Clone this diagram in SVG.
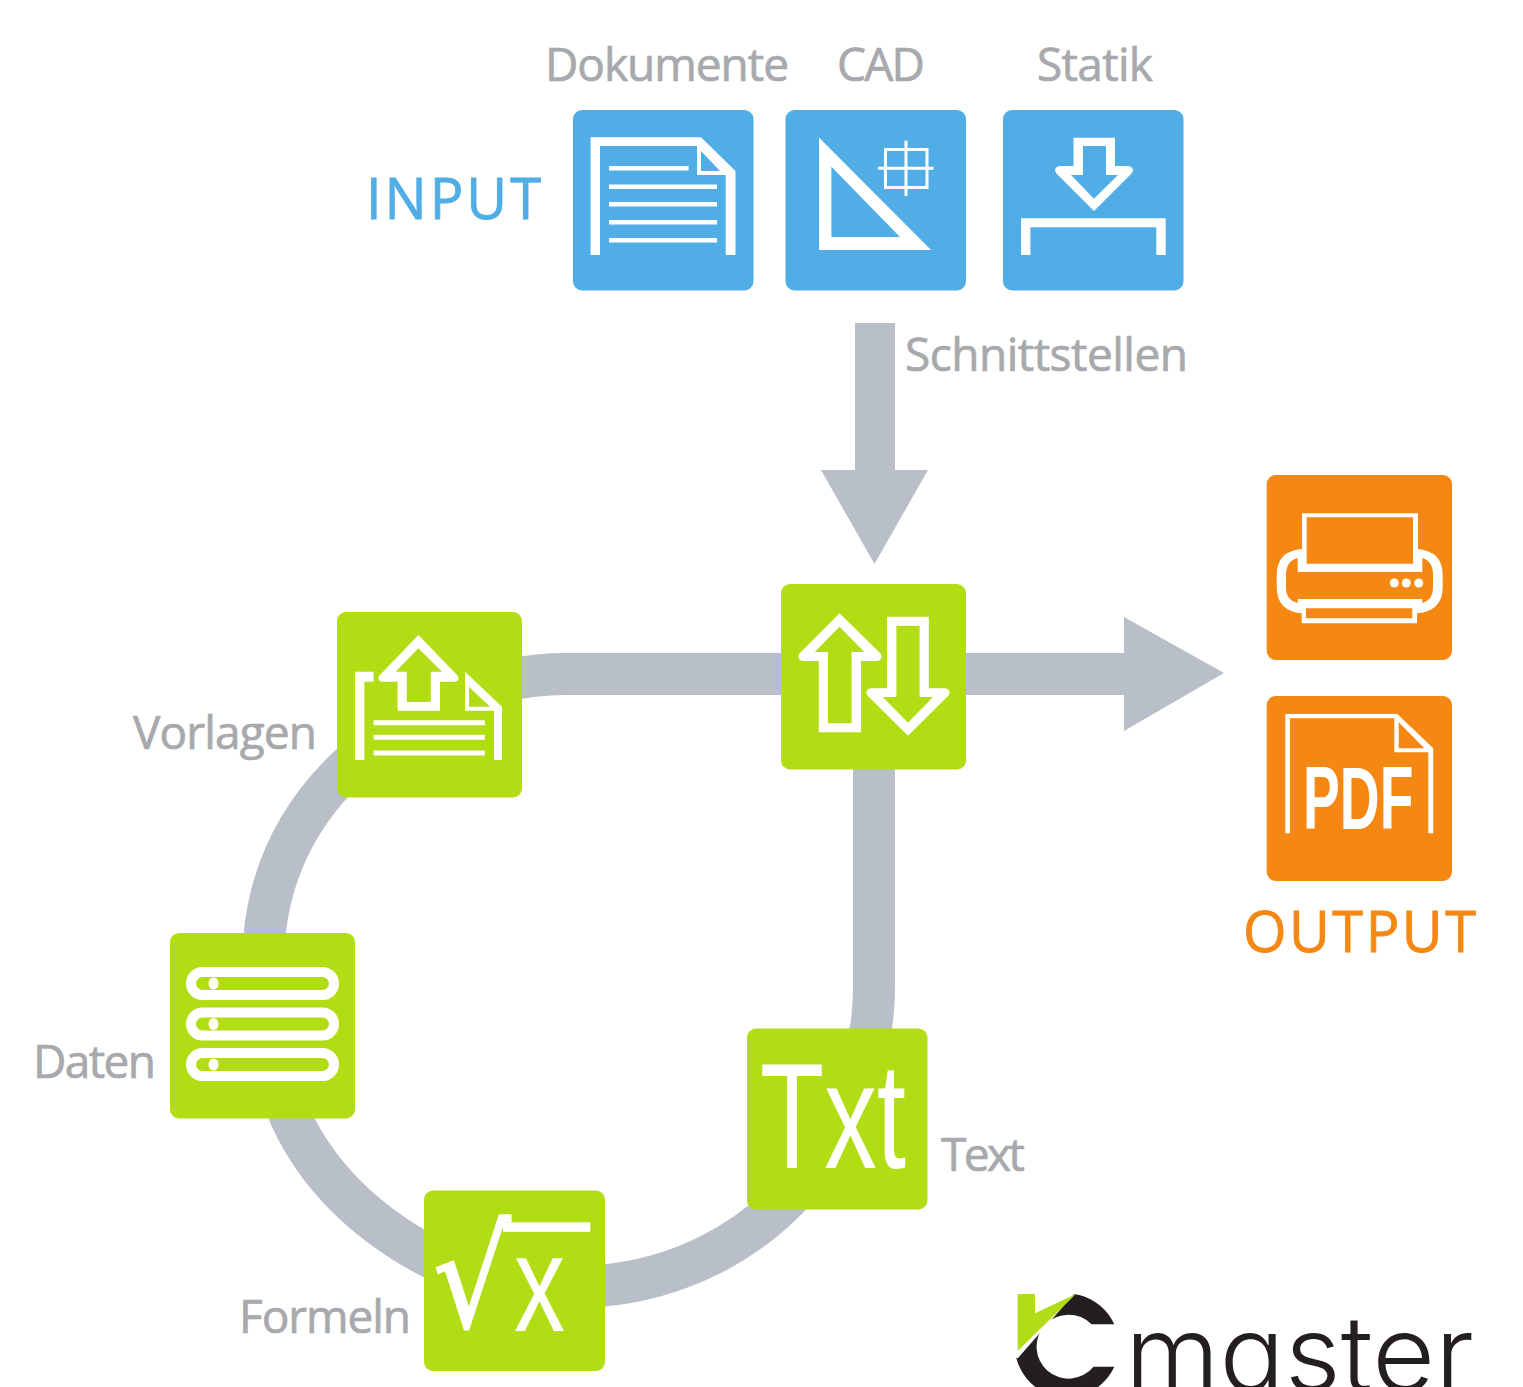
<svg xmlns="http://www.w3.org/2000/svg" width="1523" height="1387" viewBox="0 0 1523 1387">
<style>
.blue{fill:#50ade6}.green{fill:#b2dd15}.orange{fill:#f58713}
.w{fill:#fff}.wo{fill:#fff;fill-rule:evenodd}
.lab{font-family:"Open Sans","Liberation Sans",sans-serif;font-size:46px;fill:#a7a9ac;stroke:#a7a9ac;stroke-width:.7px}
.big{font-family:"Open Sans","Liberation Sans",sans-serif;font-size:56px;stroke-width:.8px}
.ico{font-family:"Liberation Sans",Arial,sans-serif;fill:#fff}
.conn{fill:#b8bfc8}
</style>
<rect width="1523" height="1387" fill="#fff"/>
<g id="connectors">
<path d="M781,674 L565,674 C480,674 400,715 342,773 C300,815 270,870 264,940 C264,1010 275,1080 291,1118 C320,1180 370,1225 430,1257 L600,1286 C760,1272 874,1140 874,985 L874,769" fill="none" stroke="#b8bfc8" stroke-width="42"/>
<path class="conn" d="M855,323H895V470H928L874.500,564L821,470H855Z"/>
<path class="conn" d="M960,653H1124V617L1224,673L1124,731V695H960Z"/>
</g>
<text class="big" x="366" y="219" textLength="175" style="fill:#50ade6;stroke:#50ade6">INPUT</text>
<g id="node-dokumente">
<text class="lab" x="545" y="81" textLength="244">Dokumente</text>
<rect class="blue" x="573" y="110" width="180.500" height="180.500" rx="9"/>
<path class="wo" d="M590.600,255V137.300H701L735.500,171V255H725.700V175H697V146H600V255Z M701,151V171H720Z"/>
<path class="w" d="M609,166h79.600v4.600H609ZM609,184.400h108v4.600H609ZM609,202h108v4.600H609ZM609,220h108v4.600H609ZM609,238h108v4.600H609Z"/>
</g>
<g id="node-cad">
<text class="lab" x="837" y="81" textLength="88">CAD</text>
<rect class="blue" x="785.500" y="110" width="180.500" height="180.500" rx="9"/>
<path class="wo" d="M819,137.500L931,250H819Z M831.400,166.700V237H900Z"/>
<path d="M885.500,149.500H927V187.500H885.500ZM906,140.700V196M878,168.300H933.500" fill="none" stroke="#fff" stroke-width="3"/>
</g>
<g id="node-statik">
<text class="lab" x="1037" y="81" textLength="116">Statik</text>
<rect class="blue" x="1003" y="110" width="180.500" height="180.500" rx="9"/>
<path class="wo" d="M1073.500,137.700H1115V166H1129Q1135,168 1132,173L1094,211L1056,173Q1053,168 1059,166H1073.500Z M1083,146V175H1071L1094,198.700L1118,175H1106V146Z"/>
<path class="w" d="M1021,255V218.300H1165.700V255H1156.300V227.300H1030.400V255Z"/>
</g>
<g id="node-schnittstellen">
<text class="lab" x="905" y="371" textLength="283">Schnittstellen</text>
<rect class="green" x="781" y="584" width="185" height="185.500" rx="9"/>
<path class="wo" d="M839.500,613.300L881,654Q883,660 877,661H861V732.300H818.800V661H803Q797,660 799,654Z M839.500,626.700L814.600,652H828V723.300H851.600V652H864.400Z"/>
<path class="wo" d="M887,616.700H928.800V688.300H945Q951,689 949,695L908,735.700L867,695Q865,689 871,688.300H887Z M896.400,625.700V697H882.700L908,722.700L933,697H919.600V625.700Z"/>
</g>
<g id="node-vorlagen">
<text class="lab" x="133" y="749" textLength="184">Vorlagen</text>
<rect class="green" x="337" y="612" width="185" height="185.500" rx="9"/>
<path class="w" d="M355,760V671.700H373.600V681.700H364.400V760Z"/>
<path class="wo" d="M418.400,635L458,676Q460,681 455,681.700H440V710.700H397.600V681.700H382Q377,681 379,676Z M418.400,648.300L395.600,671.700H406.800V702H430.800V671.700H442Z"/>
<path class="wo" d="M465,671.700L502,706.700V760H494V710.700H465Z M469,686.700V706.700H490Z"/>
<path class="w" d="M373.600,720.300H484.800V725.300H373.600ZM373.600,734.800H484.800V739.800H373.600ZM373.600,750.500H484.800V755.500H373.600Z"/>
</g>
<g id="node-daten">
<text class="lab" x="33" y="1078" textLength="123">Daten</text>
<rect class="green" x="170" y="933" width="185" height="185.500" rx="9"/>
<g fill="none" stroke="#fff" stroke-width="10">
<rect x="191" y="972" width="143" height="23" rx="11.500"/>
<rect x="191" y="1012.500" width="143" height="23" rx="11.500"/>
<rect x="191" y="1053" width="143" height="23" rx="11.500"/>
</g>
<g class="w"><ellipse cx="213.500" cy="983.500" rx="5" ry="6"/><ellipse cx="213.500" cy="1024" rx="5" ry="6"/><ellipse cx="213.500" cy="1064.500" rx="5" ry="6"/></g>
</g>
<g id="node-formeln">
<text class="lab" x="239" y="1333" textLength="172">Formeln</text>
<rect class="green" x="424" y="1190.500" width="181" height="180.500" rx="9"/>
<text class="ico" style="font-family:'DejaVu Sans',sans-serif;stroke:#fff;stroke-width:1.500px" font-size="122" x="0" y="0" transform="translate(433,1327) scale(1,1.13)">√</text>
<rect class="w" x="503" y="1222.300" width="87.300" height="9.500"/>
<text class="ico" font-size="138" transform="translate(514,1331) scale(.74,1)" x="0" y="0">x</text>
</g>
<g id="node-text">
<text class="lab" x="941" y="1171" textLength="84">Text</text>
<rect class="green" x="747" y="1028.500" width="180.500" height="181" rx="9"/>
<text class="ico" font-size="150" transform="translate(760,1168) scale(.7,1)" x="0" y="0">Txt</text>
</g>
<g id="node-print">
<rect class="orange" x="1266.700" y="475" width="185.300" height="185" rx="9"/>
<path class="wo" d="M1302,513.300H1418V549H1417Q1442.700,551 1442.700,575V587Q1442.700,611 1417,613.300V623.300H1301.700V613.300Q1276.700,611 1276.700,587V575Q1276.700,551 1302,549Z M1306.700,517.300V563.700H1413V517.300Z M1297.700,558Q1286,561 1286,575V588Q1286,600 1297.700,603V599H1422.300V603Q1433,600 1433,588V575Q1433,561 1422.300,558V572H1297.700Z M1306,608.300V618.300H1412.300V608.300Z"/>
<g class="w"><circle cx="1394.300" cy="583" r="4.500"/><circle cx="1406.300" cy="583" r="4.500"/><circle cx="1418.700" cy="583" r="4.500"/></g>
</g>
<g id="node-pdf">
<rect class="orange" x="1266.700" y="696" width="185.300" height="185" rx="9"/>
<path class="wo" d="M1285.300,833.300V714H1397.300L1433.300,748.300V833.300H1428.300V752.300H1394.300V718.300H1290V833.300Z M1398.700,722.300V748.300H1424.300Z"/>
<text class="ico" font-weight="700" font-size="89" transform="translate(1303,829) scale(.62,1)" x="0" y="0">PDF</text>
</g>
<text class="big" x="1243" y="952" textLength="233" style="fill:#f58713;stroke:#f58713">OUTPUT</text>
<g id="logo">
<path fill="#231f20" d="M1114.300,1324.300H1091.500A32,32 0 1 0 1093.500,1366.700H1114.300A52,52 0 1 1 1114.300,1324.300Z"/>
<path class="w" d="M1005,1285H1082L1018,1358H1005Z"/>
<path class="green" d="M1017.700,1294H1035V1313.300L1076,1294L1017.700,1351Z"/>
<text x="1125" y="1391" font-family="Inter,'Noto Sans',sans-serif" font-weight="300" font-size="105" fill="#231f20" textLength="349" lengthAdjust="spacingAndGlyphs" style="font-feature-settings:'cv11'">master</text>
</g>
</svg>
